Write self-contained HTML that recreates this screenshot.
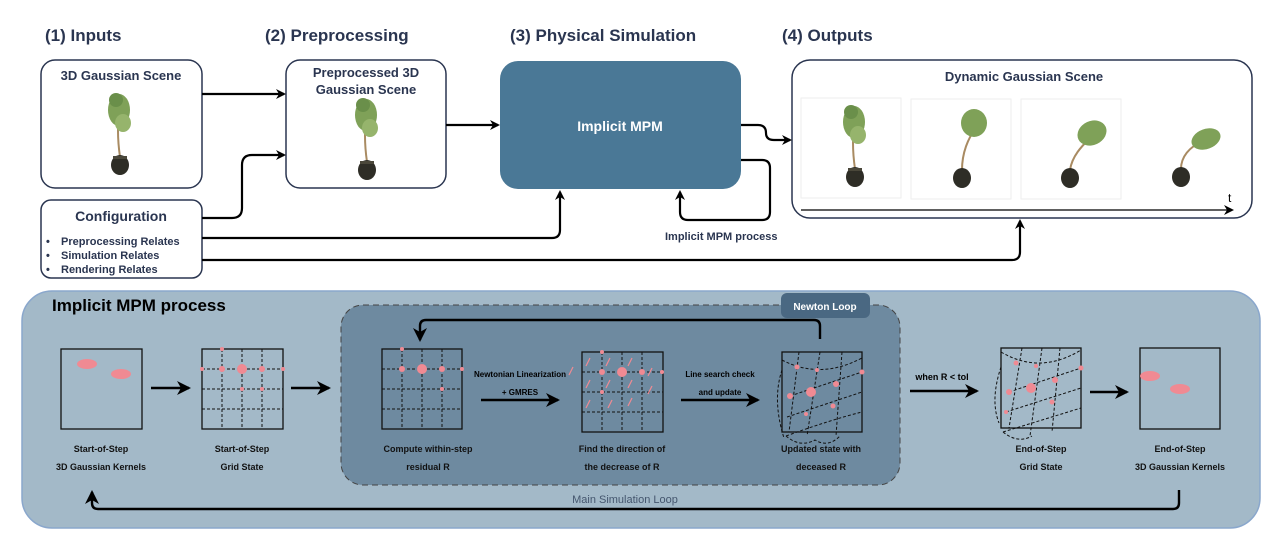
<!DOCTYPE html>
<html><head><meta charset="utf-8"><style>
html,body{margin:0;padding:0;background:#fff}
svg{display:block;font-family:"Liberation Sans",Arial,sans-serif}
</style></head><body>
<svg width="1282" height="551" viewBox="0 0 1282 551" xmlns="http://www.w3.org/2000/svg">
<defs>
<marker id="ah" markerWidth="10" markerHeight="10" refX="8" refY="5" orient="auto" markerUnits="userSpaceOnUse"><path d="M0,0 L10,5 L0,10 L3,5 z" fill="#000"/></marker>
<marker id="ahb" markerWidth="14" markerHeight="14" refX="12" refY="7" orient="auto" markerUnits="userSpaceOnUse"><path d="M0,0 L14,7 L0,14 L4,7 z" fill="#000"/></marker>
<g id="plant">
<path d="M0,-8 C-2,-22 -3,-35 -1,-50" stroke="#a98b62" stroke-width="2" fill="none"/>
<ellipse cx="-1" cy="-55" rx="11" ry="16" fill="#7fa158"/>
<ellipse cx="3" cy="-42" rx="8" ry="9" fill="#96b46c"/>
<ellipse cx="-4" cy="-65" rx="7" ry="7" fill="#6a8f4a"/>
<ellipse cx="0" cy="0" rx="9" ry="10" fill="#2e2d26"/>
<rect x="-7" y="-9" width="14" height="3" fill="#4a473a"/>
</g>
</defs>

<g font-weight="bold" font-size="17" fill="#2a3550">
<text x="45" y="41">(1) Inputs</text>
<text x="265" y="41">(2) Preprocessing</text>
<text x="510" y="41">(3) Physical Simulation</text>
<text x="782" y="41">(4) Outputs</text>
</g>

<rect x="41" y="60" width="161" height="128" rx="14" fill="#fff" stroke="#2a3550" stroke-width="1.5"/>
<text x="121" y="80" text-anchor="middle" font-size="13" font-weight="bold" fill="#2a3550">3D Gaussian Scene</text>
<use href="#plant" x="120" y="165"/>
<rect x="41" y="200" width="161" height="78" rx="10" fill="#fff" stroke="#2a3550" stroke-width="1.5"/>
<text x="121" y="221" text-anchor="middle" font-size="14" font-weight="bold" fill="#2a3550">Configuration</text>
<g font-size="11" font-weight="bold" fill="#2a3550">
<text x="46" y="245">•</text><text x="61" y="245">Preprocessing Relates</text>
<text x="46" y="259">•</text><text x="61" y="259">Simulation Relates</text>
<text x="46" y="273">•</text><text x="61" y="273">Rendering Relates</text>
</g>

<rect x="286" y="60" width="160" height="128" rx="14" fill="#fff" stroke="#2a3550" stroke-width="1.5"/>
<text x="366" y="77" text-anchor="middle" font-size="13" font-weight="bold" fill="#2a3550">Preprocessed 3D</text>
<text x="366" y="94" text-anchor="middle" font-size="13" font-weight="bold" fill="#2a3550">Gaussian Scene</text>
<use href="#plant" x="367" y="170"/>

<rect x="500" y="61" width="241" height="128" rx="18" fill="#4a7896"/>
<text x="620" y="131" text-anchor="middle" font-size="14" font-weight="bold" fill="#fff">Implicit MPM</text>

<rect x="792" y="60" width="460" height="158" rx="18" fill="#fff" stroke="#2a3550" stroke-width="1.5"/>
<text x="1024" y="81" text-anchor="middle" font-size="13" font-weight="bold" fill="#2a3550">Dynamic Gaussian Scene</text>
<rect x="801" y="98" width="100" height="100" fill="#fff" stroke="#eee"/>
<rect x="911" y="99" width="100" height="100" fill="#fff" stroke="#eee"/>
<rect x="1021" y="99" width="100" height="100" fill="#fff" stroke="#eee"/>
<use href="#plant" x="855" y="177"/>
<g transform="translate(962,178)"><path d="M0,-8 C0,-25 6,-40 14,-50" stroke="#a98b62" stroke-width="2" fill="none"/><ellipse cx="12" cy="-55" rx="13" ry="14" fill="#7fa158"/><ellipse cx="0" cy="0" rx="9" ry="10" fill="#2e2d26"/></g>
<g transform="translate(1070,178)"><path d="M0,-8 C2,-22 12,-32 20,-40" stroke="#a98b62" stroke-width="2" fill="none"/><ellipse cx="22" cy="-45" rx="15" ry="12" fill="#7fa158" transform="rotate(-25 22 -45)"/><ellipse cx="0" cy="0" rx="9" ry="10" fill="#2e2d26"/></g>
<g transform="translate(1181,177)"><path d="M0,-8 C0,-20 8,-30 22,-36" stroke="#a98b62" stroke-width="2" fill="none"/><ellipse cx="25" cy="-38" rx="15" ry="10" fill="#7fa158" transform="rotate(-20 25 -38)"/><ellipse cx="0" cy="0" rx="9" ry="10" fill="#2e2d26"/></g>
<line x1="801" y1="210" x2="1232" y2="210" stroke="#000" stroke-width="1.2" marker-end="url(#ah)"/>
<text x="1228" y="202" font-size="12" fill="#000">t</text>

<g stroke="#000" stroke-width="2.2" fill="none">
<path d="M202,94 H284" marker-end="url(#ah)"/>
<path d="M202,218 H232 Q242,218 242,208 V165 Q242,155 252,155 H284" marker-end="url(#ah)"/>
<path d="M446,125 H498" marker-end="url(#ah)"/>
<path d="M741,125 H758 Q766,125 766,133 Q766,140 774,140 H790" marker-end="url(#ah)"/>
<path d="M741,160 H762 Q770,160 770,168 V212 Q770,220 762,220 H688 Q680,220 680,212 V192" marker-end="url(#ah)"/>
<path d="M202,238 H552 Q560,238 560,230 V192" marker-end="url(#ah)"/>
<path d="M202,260 H1012 Q1020,260 1020,252 V221" marker-end="url(#ah)"/>
</g>
<text x="665" y="240" font-size="11" font-weight="bold" fill="#2a3550">Implicit MPM process</text>

<!-- bottom panel -->
<rect x="22" y="291" width="1238" height="237" rx="30" fill="#a3b9c8" stroke="#8aa7cc" stroke-width="1.5"/>
<text x="52" y="311" font-size="17" font-weight="bold" fill="#000">Implicit MPM process</text>
<rect x="341" y="305" width="559" height="180" rx="22" fill="#6e8aa0" stroke="#444" stroke-dasharray="6,4"/>
<rect x="781" y="293" width="89" height="25" rx="6" fill="#4a6882"/>
<text x="825" y="310" text-anchor="middle" font-size="10" font-weight="bold" fill="#fff">Newton Loop</text>

<g fill="none" stroke="#111">
<rect x="61" y="349" width="81" height="80" stroke-width="1.3"/>
<rect x="202" y="349" width="81" height="80" stroke-width="1.3"/>
<rect x="382" y="349" width="80" height="80" stroke-width="1.3"/>
<rect x="582" y="352" width="81" height="80" stroke-width="1.3"/>
<rect x="782" y="352" width="80" height="80" stroke-width="1.3"/>
<rect x="1001" y="348" width="80" height="80" stroke-width="1.3"/>
<rect x="1140" y="348" width="80" height="81" stroke-width="1.3"/>
<g stroke-dasharray="3,2" stroke-width="1">
<path d="M222,349V429M242,349V429M262,349V429M202,369H283M202,389H283M202,409H283"/>
<path d="M402,349V429M422,349V429M442,349V429M382,369H462M382,389H462M382,409H462"/>
<path d="M602,352V432M622,352V432M642,352V432M582,372H663M582,392H663M582,412H663"/>
<path d="M782,360 Q820,380 862,358 M790,396 L862,372 M787,417 L862,392 M786,436 Q830,420 862,412 M799,352 L789,432 M820,352 L807,436 M842,352 L836,436 M782,370 Q772,400 784,438 M786,436 Q800,448 815,440 Q828,448 840,436"/>
<path d="M1001,352 Q1040,375 1081,350 M1009,392 L1081,368 M1006,412 L1081,388 M1003,432 L1081,408 M1022,348 L1009,428 M1042,348 L1030,436 M1060,348 L1052,432 M1001,367 Q990,400 999,423 M1003,432 Q1018,444 1032,436"/>
</g>
</g>
<g fill="#f08a93">
<ellipse cx="87" cy="364" rx="10" ry="5"/><ellipse cx="121" cy="374" rx="10" ry="5"/>
<ellipse cx="1150" cy="376" rx="10" ry="5"/><ellipse cx="1180" cy="389" rx="10" ry="5"/>
<circle cx="222" cy="369" r="3"/><circle cx="242" cy="369" r="5"/><circle cx="262" cy="369" r="3"/><circle cx="262" cy="389" r="2"/><circle cx="242" cy="389" r="2"/><circle cx="222" cy="349" r="2"/><circle cx="202" cy="369" r="2"/><circle cx="283" cy="369" r="2"/>
<circle cx="402" cy="369" r="3"/><circle cx="422" cy="369" r="5"/><circle cx="442" cy="369" r="3"/><circle cx="442" cy="389" r="2"/><circle cx="402" cy="349" r="2"/><circle cx="462" cy="369" r="2"/>
<circle cx="602" cy="372" r="3"/><circle cx="622" cy="372" r="5"/><circle cx="642" cy="372" r="3"/><circle cx="602" cy="352" r="2"/><circle cx="662" cy="372" r="2"/><circle cx="602" cy="392" r="2"/>
<circle cx="797" cy="367" r="2.5"/><circle cx="811" cy="392" r="5"/><circle cx="836" cy="384" r="3"/><circle cx="790" cy="396" r="3"/><circle cx="833" cy="406" r="2.5"/><circle cx="862" cy="372" r="2.5"/><circle cx="817" cy="370" r="2"/><circle cx="806" cy="414" r="2"/>
<circle cx="1016" cy="363" r="2.5"/><circle cx="1031" cy="388" r="5"/><circle cx="1055" cy="380" r="3"/><circle cx="1009" cy="392" r="3"/><circle cx="1052" cy="402" r="2.5"/><circle cx="1081" cy="368" r="2.5"/><circle cx="1036" cy="366" r="2"/><circle cx="1006" cy="412" r="2"/>
</g>
<g stroke="#f08a93" stroke-width="1.2">
<path d="M573,367l-4,8M590,358l-4,8M610,358l-4,8M632,358l-4,8M652,368l-4,8M590,380l-4,8M610,380l-4,8M632,380l-4,8M652,386l-4,8M590,400l-4,8M612,400l-4,8M632,398l-4,8"/>
</g>

<g stroke="#000" stroke-width="2.4" fill="none">
<path d="M151,388 H189" marker-end="url(#ahb)"/>
<path d="M291,388 H329" marker-end="url(#ahb)"/>
<path d="M481,400 H558" marker-end="url(#ahb)"/>
<path d="M681,400 H758" marker-end="url(#ahb)"/>
<path d="M910,391 H977" marker-end="url(#ahb)"/>
<path d="M1090,392 H1127" marker-end="url(#ahb)"/>
<path d="M820,339 V326 Q820,320 814,320 H426 Q420,320 420,326 V340" marker-end="url(#ahb)"/>
<path d="M1179,490 V503 Q1179,509 1173,509 H98 Q92,509 92,503 V492" marker-end="url(#ahb)"/>
</g>
<g font-size="8" font-weight="bold" fill="#000" text-anchor="middle">
<text x="520" y="377">Newtonian Linearization</text>
<text x="520" y="395">+ GMRES</text>
<text x="720" y="377">Line search check</text>
<text x="720" y="395">and update</text>
</g>
<text x="942" y="380" text-anchor="middle" font-size="9" font-weight="bold" fill="#000">when R &lt; tol</text>
<g font-size="9" font-weight="bold" fill="#111" text-anchor="middle">
<text x="101" y="452">Start-of-Step</text><text x="101" y="470">3D Gaussian Kernels</text>
<text x="242" y="452">Start-of-Step</text><text x="242" y="470">Grid State</text>
<text x="428" y="452">Compute within-step</text><text x="428" y="470">residual R</text>
<text x="622" y="452">Find the direction of</text><text x="622" y="470">the decrease of R</text>
<text x="821" y="452">Updated state with</text><text x="821" y="470">deceased R</text>
<text x="1041" y="452">End-of-Step</text><text x="1041" y="470">Grid State</text>
<text x="1180" y="452">End-of-Step</text><text x="1180" y="470">3D Gaussian Kernels</text>
</g>
<text x="625" y="503" text-anchor="middle" font-size="11" fill="#45566e">Main Simulation Loop</text>
</svg>
</body></html>
